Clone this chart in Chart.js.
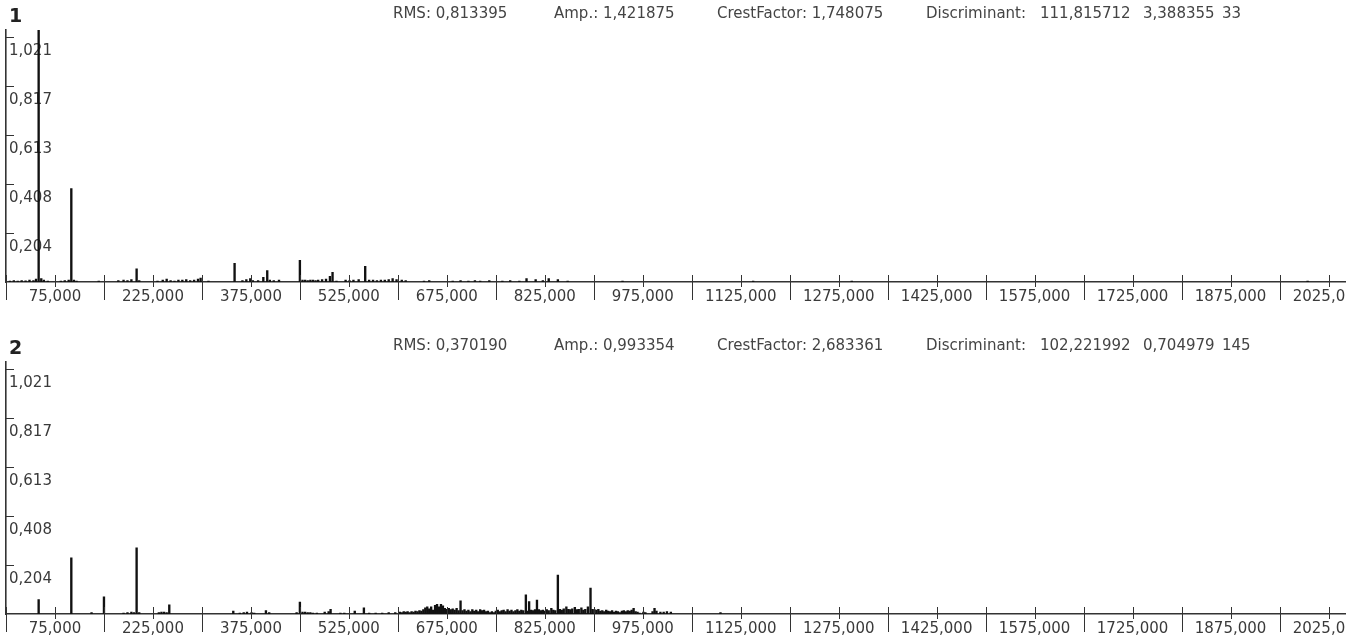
<!DOCTYPE html>
<html>
<head>
<meta charset="utf-8">
<script src="https://cdn.jsdelivr.net/npm/chart.js@4.4.1/dist/chart.umd.min.js"></script>
<style>
  html, body { margin: 0; padding: 0; background: #fff; width: 1346px; height: 640px; overflow: hidden; }
  .panel { position: absolute; left: 0; width: 1346px; overflow: hidden; }
  .panel canvas { position: absolute; left: 0; top: 0; }
  .hdr { position: absolute; top: 4px; font: 15px "DejaVu Sans", sans-serif; color: #444; white-space: pre; }
  .num { position: absolute; left: 9px; top: 4px; font: bold 19px "DejaVu Sans", sans-serif; color: #222; }
</style>
</head>
<body>
<div class="panel" style="top:0;height:332px">
  <canvas id="c1" width="1400" height="320"></canvas>
  <div class="num">1</div>
  <div class="hdr" style="left:393px">RMS: 0,813395</div>
  <div class="hdr" style="left:554px">Amp.: 1,421875</div>
  <div class="hdr" style="left:717px">CrestFactor: 1,748075</div>
  <div class="hdr" style="left:926px">Discriminant:</div>
  <div class="hdr" style="left:1040px">111,815712</div>
  <div class="hdr" style="left:1143px">3,388355</div>
  <div class="hdr" style="left:1222px">33</div>
</div>
<div class="panel" style="top:332px;height:308px">
  <canvas id="c2" width="1400" height="320"></canvas>
  <div class="num">2</div>
  <div class="hdr" style="left:393px">RMS: 0,370190</div>
  <div class="hdr" style="left:554px">Amp.: 0,993354</div>
  <div class="hdr" style="left:717px">CrestFactor: 2,683361</div>
  <div class="hdr" style="left:926px">Discriminant:</div>
  <div class="hdr" style="left:1040px">102,221992</div>
  <div class="hdr" style="left:1143px">0,704979</div>
  <div class="hdr" style="left:1222px">145</div>
</div>
<script>
// Axis ticks (Hz on x, amplitude on y)
const xLabelTicks = [75, 225, 375, 525, 675, 825, 975, 1125, 1275, 1425, 1575, 1725, 1875, 2025];
const xMinorTicks = [0, 150, 300, 450, 600, 750, 900, 1050, 1200, 1350, 1500, 1650, 1800, 1950];
const yTicks = [0.2042, 0.4084, 0.6126, 0.8168, 1.021];
const xMax = 2100;
const yMax = 1.0514;

// Spectrum 1: frequency (Hz) and amplitude
const freq1 = [6, 12, 18, 24, 30, 36, 42, 46, 50, 54, 58, 64, 84, 90, 96, 100, 104, 108, 142,
  172, 180, 186, 192, 200, 204, 232, 240, 246, 252, 258, 264, 270, 276, 282, 288, 294, 298, 310,
  350, 362, 368, 374, 378, 386, 394, 400, 404, 410, 418, 450, 454, 458, 462, 466, 470, 474, 478,
  484, 490, 496, 500, 506, 520, 526, 532, 540, 550, 556, 562, 568, 574, 580, 586, 592, 598, 606,
  612, 640, 648, 684, 696, 708, 718, 726, 740, 760, 772, 786, 797, 811, 822, 831, 845, 860, 944,
  1144, 1295, 1993];
const amp1 = [0.004, 0.006, 0.004, 0.006, 0.005, 0.008, 0.006, 0.012, 1.421875, 0.014, 0.008, 0.004, 0.004, 0.006, 0.008, 0.39, 0.008, 0.004, 0.004,
  0.006, 0.008, 0.006, 0.01, 0.055, 0.006, 0.004, 0.008, 0.012, 0.006, 0.004, 0.008, 0.008, 0.01, 0.006, 0.008, 0.012, 0.016, 0.004,
  0.078, 0.006, 0.01, 0.014, 0.006, 0.006, 0.02, 0.048, 0.008, 0.006, 0.008, 0.09, 0.008, 0.008, 0.006, 0.008, 0.008, 0.006, 0.008,
  0.01, 0.012, 0.024, 0.04, 0.004, 0.008, 0.006, 0.008, 0.01, 0.065, 0.008, 0.008, 0.006, 0.008, 0.008, 0.01, 0.014, 0.01, 0.008,
  0.006, 0.004, 0.006, 0.004, 0.006, 0.004, 0.006, 0.004, 0.006, 0.004, 0.006, 0.004, 0.014, 0.01, 0.006, 0.014, 0.01, 0.004, 0.004,
  0.004, 0.004, 0.004];

// Spectrum 2: frequency (Hz) and amplitude
const freq2 = [50, 100, 131, 150, 180, 186, 192, 196, 200, 204, 234, 238, 242, 246, 250,
  348, 358, 364, 369, 376, 380, 398, 403, 445, 450, 454, 458, 462, 466, 470, 476, 488, 494, 497,
  512, 518, 534, 548, 556, 566, 576, 586, 596,
  603, 606, 609, 612, 615, 618, 621, 624, 627, 630, 633, 636, 639, 642, 645, 648, 651, 654, 657,
  660, 663, 666, 669, 672, 675, 678, 681, 684, 687, 690, 693, 696, 699, 702, 705, 708, 711, 714,
  717, 720, 723, 726, 729, 732, 735, 738, 741, 744, 747, 750, 753, 756, 759, 762, 765, 768, 771,
  774, 777, 780, 783, 786, 789, 792, 796, 798, 801, 804, 807, 810, 813, 816, 819, 822, 825, 828,
  831, 835, 838, 841, 845, 848, 851, 854, 858, 861, 864, 867, 871, 874, 877, 881, 884, 887, 891,
  895, 898, 901, 904, 907, 910, 913, 916, 919, 922, 925, 928, 931, 934, 937, 940, 943, 946, 949,
  952, 955, 958, 961, 964, 967, 970, 976, 979, 990, 993, 996, 1002, 1007, 1012, 1018, 1094];
const amp2 = [0.06, 0.234, 0.006, 0.072, 0.004, 0.006, 0.008, 0.006, 0.276, 0.006, 0.006, 0.008, 0.008, 0.006, 0.038,
  0.012, 0.004, 0.006, 0.008, 0.006, 0.004, 0.014, 0.006, 0.006, 0.05, 0.008, 0.008, 0.006, 0.006, 0.004, 0.004, 0.008, 0.01, 0.02,
  0.004, 0.004, 0.012, 0.026, 0.004, 0.004, 0.004, 0.006, 0.006,
  0.008, 0.006, 0.01, 0.008, 0.01, 0.006, 0.01, 0.008, 0.012, 0.01, 0.014, 0.012, 0.018, 0.026, 0.03, 0.022, 0.03, 0.016, 0.036,
  0.04, 0.03, 0.04, 0.034, 0.024, 0.02, 0.024, 0.018, 0.022, 0.016, 0.024, 0.014, 0.055, 0.014, 0.018, 0.012, 0.016, 0.01, 0.018,
  0.012, 0.016, 0.01, 0.018, 0.014, 0.016, 0.01, 0.012, 0.006, 0.01, 0.006, 0.012, 0.016, 0.01, 0.014, 0.016, 0.01, 0.018, 0.012,
  0.016, 0.01, 0.014, 0.018, 0.012, 0.016, 0.014, 0.08, 0.012, 0.052, 0.016, 0.014, 0.018, 0.058, 0.018, 0.014, 0.016, 0.012, 0.018,
  0.014, 0.024, 0.016, 0.014, 0.162, 0.02, 0.016, 0.022, 0.03, 0.02, 0.018, 0.022, 0.028, 0.018, 0.02, 0.026, 0.016, 0.02, 0.03,
  0.108, 0.02, 0.018, 0.016, 0.02, 0.012, 0.014, 0.01, 0.016, 0.012, 0.01, 0.014, 0.008, 0.012, 0.01, 0.006, 0.012, 0.014, 0.01,
  0.014, 0.012, 0.016, 0.024, 0.01, 0.008, 0.004, 0.008, 0.006, 0.01, 0.024, 0.012, 0.008, 0.008, 0.01, 0.008, 0.006];

const AXIS = '#333';
const FONT = { family: '"DejaVu Sans", sans-serif', size: 15 };
const fmt = v => v.toFixed(3).replace('.', ',');

// Short tick marks: x ticks cross the axis, unlabeled ones reach down beside the labels; y ticks point inward
const tickMarks = {
  id: 'tickMarks',
  afterDatasetsDraw(chart) {
    const { ctx, chartArea: a, scales: { x, y } } = chart;
    ctx.save();
    ctx.strokeStyle = AXIS;
    ctx.lineWidth = 1;
    ctx.beginPath();
    x.ticks.forEach(t => {
      const px = Math.round(x.getPixelForValue(t.value)) + 0.5;
      const labeled = xLabelTicks.includes(t.value);
      ctx.moveTo(px, a.bottom - 7);
      ctx.lineTo(px, a.bottom + (labeled ? 5 : 18));
    });
    y.ticks.forEach(t => {
      const py = Math.round(y.getPixelForValue(t.value)) + 0.5;
      ctx.moveTo(a.left, py);
      ctx.lineTo(a.left + 8, py);
    });
    ctx.stroke();
    ctx.restore();
  }
};

function makeChart(id, freqs, amps) {
  const points = freqs.map((f, i) => ({ x: f, y: amps[i] }));
  return new Chart(document.getElementById(id), {
    type: 'bar',
    data: { datasets: [{ data: points, backgroundColor: '#111', borderWidth: 0, barThickness: 1.7, grouped: false }] },
    options: {
      responsive: false,
      devicePixelRatio: 1,
      animation: false,
      events: [],
      layout: { padding: { left: 6, top: 30, right: 22.5, bottom: 0 } },
      plugins: { legend: { display: false }, tooltip: { enabled: false } },
      scales: {
        x: {
          type: 'linear', min: 0, max: xMax, offset: false,
          afterBuildTicks: s => { s.ticks = xMinorTicks.concat(xLabelTicks).sort((a, b) => a - b).map(v => ({ value: v })); },
          afterFit: s => { s.height = 38; },
          grid: { display: false, drawTicks: false },
          border: { display: true, color: AXIS, width: 1.6 },
          ticks: {
            autoSkip: false, maxRotation: 0, minRotation: 0, padding: 6, color: '#3a3a3a', font: FONT,
            callback: v => xLabelTicks.includes(v) ? fmt(v) : ''
          }
        },
        y: {
          min: 0, max: yMax,
          afterBuildTicks: s => { s.ticks = yTicks.map(v => ({ value: v })); },
          afterFit: s => { s.width = 0; },
          grid: { display: false, drawTicks: false },
          border: { display: true, color: AXIS, width: 1.6 },
          ticks: { mirror: true, padding: 3, labelOffset: 14, color: '#3a3a3a', font: FONT, callback: v => fmt(v) }
        }
      }
    },
    plugins: [tickMarks]
  });
}

makeChart('c1', freq1, amp1);
makeChart('c2', freq2, amp2);
</script>
</body>
</html>
